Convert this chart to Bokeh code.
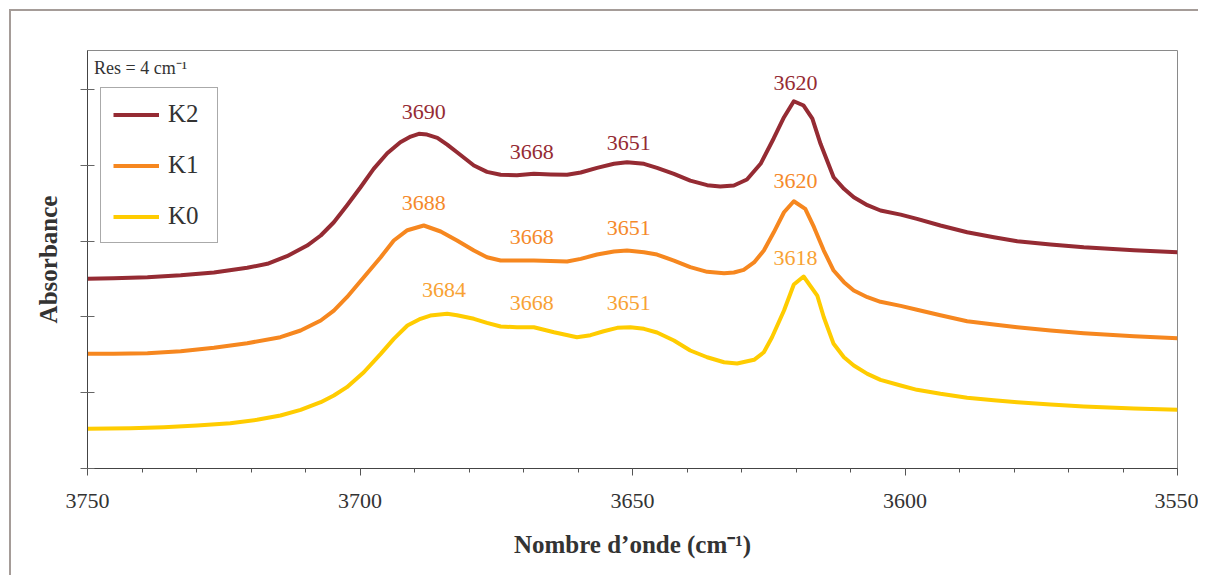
from bokeh.plotting import figure
from bokeh.models import (Range1d, FixedTicker, Legend, LegendItem, Label, LabelSet, ColumnDataSource)
from bokeh.embed import file_html
from bokeh.resources import INLINE

# ---------------- data ----------------
k2_x = [3750.0, 3745.2, 3739.0, 3732.9, 3726.8, 3720.7, 3717.0, 3713.4, 3709.7, 3707.2,
        3704.8, 3702.4, 3699.9, 3697.5, 3695.0, 3692.6, 3690.7, 3689.2, 3687.7, 3685.8,
        3684.0, 3682.2, 3679.1, 3676.7, 3674.2, 3671.2, 3668.1, 3665.0, 3662.0, 3659.5,
        3656.5, 3653.4, 3651.0, 3647.9, 3645.5, 3642.4, 3639.4, 3636.3, 3633.9, 3631.4,
        3629.0, 3626.5, 3624.1, 3622.2, 3620.4, 3618.6, 3617.0, 3615.5, 3613.1, 3611.2,
        3609.4, 3606.9, 3604.5, 3600.8, 3597.8, 3593.5, 3588.6, 3583.7, 3579.4, 3573.3,
        3567.2, 3558.0, 3550.0]
k2_y = [0.2503, 0.2511, 0.2524, 0.2550, 0.2586, 0.2648, 0.2701, 0.2801, 0.2942, 0.3074,
        0.3249, 0.3470, 0.3711, 0.3954, 0.4160, 0.4305, 0.4380, 0.4416, 0.4406, 0.4363,
        0.4274, 0.4173, 0.3997, 0.3914, 0.3875, 0.3869, 0.3888, 0.3879, 0.3875, 0.3905,
        0.3967, 0.4020, 0.4041, 0.4020, 0.3967, 0.3888, 0.3799, 0.3738, 0.3720, 0.3734,
        0.3813, 0.4020, 0.4354, 0.4635, 0.4846, 0.4789, 0.4617, 0.4284, 0.3843, 0.3690,
        0.3579, 0.3474, 0.3404, 0.3350, 0.3294, 0.3206, 0.3117, 0.3051, 0.2999, 0.2955,
        0.2919, 0.2880, 0.2854]

k1_x = [3750.0, 3745.2, 3739.0, 3732.9, 3726.8, 3720.7, 3714.6, 3710.9, 3707.2, 3704.8,
        3702.4, 3699.3, 3696.2, 3693.8, 3691.3, 3688.3, 3685.2, 3682.2, 3679.1, 3676.7,
        3674.2, 3668.1, 3662.0, 3659.5, 3656.5, 3653.4, 3651.0, 3647.9, 3645.5, 3642.4,
        3639.4, 3636.3, 3633.2, 3631.4, 3629.6, 3627.7, 3625.9, 3624.1, 3622.2, 3620.4,
        3618.3, 3616.7, 3614.9, 3613.1, 3611.2, 3609.4, 3606.9, 3604.5, 3600.8, 3597.8,
        3593.5, 3588.6, 3583.7, 3579.4, 3573.3, 3567.2, 3558.0, 3550.0]
k1_y = [0.1513, 0.1513, 0.1521, 0.1548, 0.1592, 0.1653, 0.1732, 0.1821, 0.1953, 0.2084,
        0.2260, 0.2524, 0.2788, 0.3008, 0.3144, 0.3206, 0.3127, 0.3008, 0.2876, 0.2788,
        0.2744, 0.2744, 0.2731, 0.2766, 0.2823, 0.2863, 0.2876, 0.2854, 0.2823, 0.2744,
        0.2656, 0.2595, 0.2577, 0.2586, 0.2621, 0.2718, 0.2876, 0.3113, 0.3381, 0.3526,
        0.3426, 0.3184, 0.2876, 0.2612, 0.2458, 0.2348, 0.2260, 0.2199, 0.2146, 0.2094,
        0.2022, 0.1943, 0.1900, 0.1864, 0.1821, 0.1785, 0.1745, 0.1719]

k0_x = [3750.0, 3742.1, 3736.0, 3729.9, 3723.8, 3718.9, 3714.6, 3710.9, 3707.2, 3704.8,
        3702.4, 3699.3, 3696.2, 3693.8, 3691.3, 3688.9, 3687.1, 3684.0, 3682.2, 3679.1,
        3676.7, 3674.2, 3671.2, 3668.1, 3664.4, 3660.2, 3657.7, 3655.3, 3652.8, 3650.4,
        3647.9, 3645.5, 3642.4, 3639.4, 3636.3, 3633.2, 3630.8, 3627.7, 3625.9, 3624.4,
        3622.2, 3620.4, 3618.6, 3616.1, 3614.9, 3613.1, 3611.2, 3609.4, 3606.9, 3604.5,
        3600.8, 3597.8, 3593.5, 3588.6, 3583.7, 3579.4, 3573.3, 3567.2, 3558.0, 3550.0]
k0_y = [0.0524, 0.0532, 0.0545, 0.0567, 0.0598, 0.0642, 0.0699, 0.0774, 0.0875, 0.0963,
        0.1073, 0.1270, 0.1513, 0.1711, 0.1887, 0.1975, 0.2018, 0.2041, 0.2022, 0.1975,
        0.1922, 0.1873, 0.1864, 0.1864, 0.1798, 0.1732, 0.1759, 0.1811, 0.1856, 0.1864,
        0.1843, 0.1794, 0.1689, 0.1557, 0.1468, 0.1402, 0.1385, 0.1434, 0.1534, 0.1732,
        0.2084, 0.2427, 0.2533, 0.2282, 0.1996, 0.1645, 0.1468, 0.1359, 0.1249, 0.1170,
        0.1095, 0.1038, 0.0985, 0.0933, 0.0901, 0.0875, 0.0844, 0.0818, 0.0792, 0.0774]

series_names = ["K2", "K1", "K0"]

# peak annotations
lab_text = ["3690", "3668", "3651", "3620",
            "3688", "3668", "3651", "3620",
            "3684", "3668", "3651", "3618"]
lab_x = [3688.3, 3668.5, 3650.7, 3620.1,
         3688.3, 3668.5, 3650.7, 3620.1,
         3684.6, 3668.5, 3650.7, 3620.1]
lab_y = [0.470, 0.4173, 0.4292, 0.5083,
         0.350, 0.3052, 0.3175, 0.379,
         0.2357, 0.2181, 0.2181, 0.278]
lab_series = ["K2"] * 4 + ["K1"] * 4 + ["K0"] * 4

x_ticks = [3750, 3700, 3650, 3600, 3550]
x_minor = list(range(3550, 3751, 10))
y_ticks = [0.0, 0.1, 0.2, 0.3, 0.4, 0.5]

# ---------------- styles ----------------
line_colors = {"K2": "#952B33", "K1": "#F6871F", "K0": "#FFCC00"}
label_colors = {"K2": "#952B33", "K1": "#F5892A", "K0": "#F8A234"}
SERIF = "Liberation Serif"

p = figure(width=1189, height=566,
           x_range=Range1d(3750, 3550), y_range=Range1d(0, 0.5515),
           output_backend="svg", toolbar_location=None,
           min_border_left=76, min_border_right=23, min_border_top=39, min_border_bottom=109)
p.styles = {"margin-left": "9px", "margin-top": "9px",
            "border-left": "2px solid #A59C98", "border-top": "2px solid #A59C98"}

p.xgrid.visible = False
p.ygrid.visible = False
p.outline_line_color = "#8A8A8A"
p.outline_line_width = 1
p.background_fill_color = "white"
p.border_fill_color = "white"

# x axis
p.xaxis.ticker = FixedTicker(ticks=x_ticks, minor_ticks=x_minor)
p.xaxis.major_tick_in = 0
p.xaxis.major_tick_out = 7
p.xaxis.minor_tick_in = 0
p.xaxis.minor_tick_out = 4
p.xaxis.axis_line_color = "#444444"
p.xaxis.major_tick_line_color = "#555555"
p.xaxis.minor_tick_line_color = "#555555"
p.xaxis.major_label_text_font = SERIF
p.xaxis.major_label_text_font_size = "22px"
p.xaxis.major_label_text_color = "#333333"
p.xaxis.major_label_standoff = 18
p.xaxis.axis_label = "Nombre d’onde (cm⁻¹)"
p.xaxis.axis_label_text_font = SERIF
p.xaxis.axis_label_text_font_style = "bold"
p.xaxis.axis_label_text_font_size = "25px"
p.xaxis.axis_label_text_color = "#333333"
p.xaxis.axis_label_standoff = 20

# y axis
p.yaxis.ticker = FixedTicker(ticks=y_ticks, minor_ticks=[])
p.yaxis.major_tick_in = 7
p.yaxis.major_tick_out = 7
p.yaxis.minor_tick_line_color = None
p.yaxis.axis_line_color = "#444444"
p.yaxis.major_tick_line_color = "#666666"
p.yaxis.major_label_text_font_size = "0px"
p.yaxis.major_label_standoff = 0
p.yaxis.axis_label = "Absorbance"
p.yaxis.axis_label_text_font = SERIF
p.yaxis.axis_label_text_font_style = "bold"
p.yaxis.axis_label_text_font_size = "25px"
p.yaxis.axis_label_text_color = "#333333"
p.yaxis.axis_label_standoff = 19

# lines
renderers = {}
for name, xs, ys in [("K2", k2_x, k2_y), ("K1", k1_x, k1_y), ("K0", k0_x, k0_y)]:
    r = p.line(xs, ys, line_color=line_colors[name], line_width=4, line_join="round")
    renderers[name] = r

# peak labels
src = ColumnDataSource(dict(x=lab_x, y=lab_y, text=lab_text,
                            color=[label_colors[s] for s in lab_series]))
p.add_layout(LabelSet(x="x", y="y", text="text", source=src, text_color="color",
                      text_font=SERIF, text_font_size="22px",
                      text_align="center", text_baseline="middle"))

# resolution note
p.add_layout(Label(x=3748.8, y=0.529, text="Res = 4 cm⁻¹", text_font=SERIF,
                   text_font_size="18px", text_color="#333333",
                   text_align="left", text_baseline="middle"))

# legend
legend = Legend(items=[LegendItem(label=n, renderers=[renderers[n]]) for n in series_names],
                location=(13, 225), orientation="vertical")
legend.label_text_font = SERIF
legend.label_text_font_size = "25px"
legend.label_text_color = "#333333"
legend.glyph_width = 46
legend.glyph_height = 25
legend.label_height = 25
legend.label_width = 37
legend.label_standoff = 9
legend.spacing = 23
legend.padding = 12
legend.margin = 0
legend.border_line_color = "#555555"
legend.border_line_width = 1
legend.background_fill_color = "white"
legend.background_fill_alpha = 1
p.add_layout(legend)

open("out.html", "w").write(file_html(p, INLINE))
